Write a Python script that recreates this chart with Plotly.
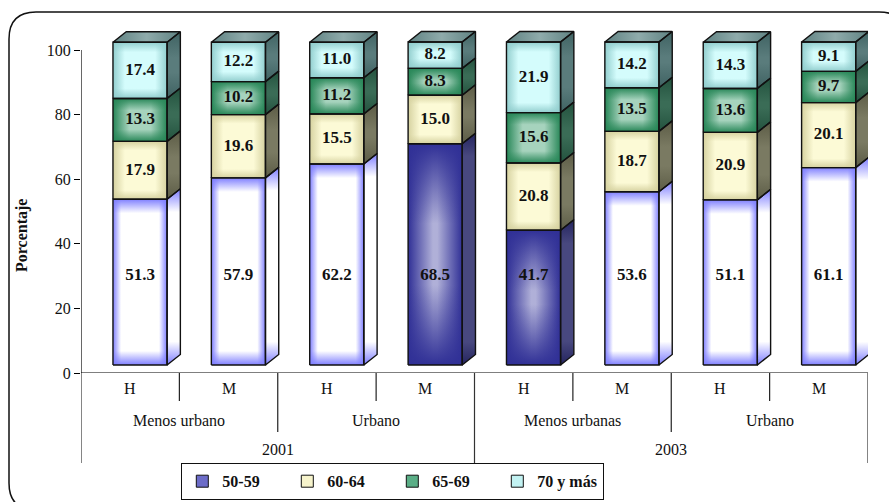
import plotly.graph_objects as go

# ---- data -------------------------------------------------------------
sexes = ["H", "M", "H", "M", "H", "M", "H", "M"]
areas = ["Menos urbano", "Urbano", "Menos urbanas", "Urbano"]
years = ["2001", "2003"]
series_names = ["50-59", "60-64", "65-69", "70 y más"]

v_50_59 = [51.3, 57.9, 62.2, 68.5, 41.7, 53.6, 51.1, 61.1]
v_60_64 = [17.9, 19.6, 15.5, 15.0, 20.8, 18.7, 20.9, 20.1]
v_65_69 = [13.3, 10.2, 11.2, 8.3, 15.6, 13.5, 13.6, 9.7]
v_70_mas = [17.4, 12.2, 11.0, 8.2, 21.9, 14.2, 14.3, 9.1]

y_ticks = [0, 20, 40, 60, 80, 100]

series_values = [v_50_59, v_60_64, v_65_69, v_70_mas]

# ---- geometry / styling ----------------------------------------------
FONT = "'Liberation Serif', 'Times New Roman', serif"
W, H = 889, 502
M_L, M_R, M_T, M_B = 81, 21, 15, 129
PLOT_W = W - M_L - M_R
PLOT_H = H - M_T - M_B
Y_MAX = 110.84
PXU = PLOT_H / Y_MAX          # pixels per y unit

BAR_L, BAR_W = 0.325, 0.55    # front face position inside each slot
DX, DY = 0.135, 3.25          # oblique depth of the 3D boxes
LIFT = 2.5                    # front face sits slightly above the floor
LABEL_BOTTOM = 27.6           # label height used in the lowest segment

# bottom segment rendering per bar: light (white/periwinkle) or dark blue
bottom_style = ["white", "white", "white", "dark", "dark", "white", "white", "white"]

styles = {
    "white": dict(base="#ffffff", edge=(128, 128, 255), hf=0.15, band=14,
                  side=["#7c7cff", "#ffffff", "#ffffff", "#7c7cff"]),
    "dark": dict(base="#b0b0d8", edge=(48, 48, 150), hf=0.46, band=80,
                 side=["#24245e", "#48487f", "#48487f", "#24245e"]),
    "cream": dict(base="#fcfad6", edge=(214, 210, 160), hf=0.22, band=9,
                  side=["#5c5c46", "#7a7a62", "#7a7a62", "#5c5c46"]),
    "green": dict(base="#a6d3bd", edge=(40, 135, 88), hf=0.3, band=12,
                  side=["#23523e", "#3a6c56", "#3a6c56", "#23523e"]),
    "cyan": dict(base="#d4fcfc", edge=(146, 206, 206), hf=0.22, band=10,
                 side=["#3f6262", "#5a7c7c", "#5a7c7c", "#3f6262"]),
}
series_style = [None, "cream", "green", "cyan"]
legend_colors = ["#6c6cc8", "#f7f4cc", "#5aae86", "#c2f2f2"]
TOP_COLORS = ["#5f8282", "#8fabab", "#5f8282"]


def rgba(c, a):
    return f"rgba({c[0]},{c[1]},{c[2]},{a})"


def seg_style(si, bi):
    return styles[bottom_style[bi]] if si == 0 else styles[series_style[si]]


fig = go.Figure()

# cumulative bottoms of every segment
n = len(sexes)
bases = []
running = [0.0] * n
for vals in series_values:
    bases.append(running[:])
    running = [r + v for r, v in zip(running, vals)]
totals = running

x_center = [i + BAR_L + BAR_W / 2 for i in range(n)]

# front faces as bars
for si, vals in enumerate(series_values):
    fig.add_trace(go.Bar(
        x=x_center, y=vals, base=[b + LIFT for b in bases[si]],
        width=BAR_W, name=series_names[si], showlegend=False,
        marker=dict(color=[seg_style(si, bi)["base"] for bi in range(n)],
                    line=dict(width=0)),
        hoverinfo="skip",
    ))

outline_x, outline_y = [], []

for si, vals in enumerate(series_values):
    for bi in range(n):
        st = seg_style(si, bi)
        x0 = bi + BAR_L
        x1 = x0 + BAR_W
        y0 = bases[si][bi] + LIFT
        y1 = y0 + vals[bi]
        rx = [x0, x1, x1, x0, x0]
        ry = [y0, y0, y1, y1, y0]
        e1, e0 = rgba(st["edge"], 1), rgba(st["edge"], 0)
        hf = st["hf"]
        # shading towards the left/right edges
        fig.add_trace(go.Scatter(
            x=rx, y=ry, mode="lines", fill="toself", line=dict(width=0),
            fillgradient=dict(type="horizontal", colorscale=[
                [0, e1], [hf, e0], [1 - hf, e0], [1, e1]]),
            showlegend=False, hoverinfo="skip"))
        # shading towards the top/bottom edges
        vf = min(0.45, st["band"] / (vals[bi] * PXU))
        fig.add_trace(go.Scatter(
            x=rx, y=ry, mode="lines", fill="toself", line=dict(width=0),
            fillgradient=dict(type="vertical", colorscale=[
                [0, e1], [vf, e0], [1 - vf, e0], [1, e1]]),
            showlegend=False, hoverinfo="skip"))
        # right side face
        sx = [x1, x1 + DX, x1 + DX, x1, x1]
        sy = [y0, y0 + DY, y1 + DY, y1, y0]
        sf = min(0.45, 22 / (vals[bi] * PXU))
        fig.add_trace(go.Scatter(
            x=sx, y=sy, mode="lines", fill="toself", line=dict(width=0),
            fillgradient=dict(type="vertical", colorscale=[
                [0, st["side"][0]], [sf, st["side"][1]],
                [1 - sf, st["side"][2]], [1, st["side"][3]]]),
            showlegend=False, hoverinfo="skip"))
        outline_x += rx + [None] + sx + [None]
        outline_y += ry + [None] + sy + [None]

# top faces
for bi in range(n):
    x0 = bi + BAR_L
    x1 = x0 + BAR_W
    yt = totals[bi] + LIFT
    tx = [x0, x1, x1 + DX, x0 + DX, x0]
    ty = [yt, yt, yt + DY, yt + DY, yt]
    fig.add_trace(go.Scatter(
        x=tx, y=ty, mode="lines", fill="toself", line=dict(width=0),
        fillgradient=dict(type="horizontal", colorscale=[
            [0, TOP_COLORS[0]], [0.5, TOP_COLORS[1]], [1, TOP_COLORS[2]]]),
        showlegend=False, hoverinfo="skip"))
    outline_x += tx + [None]
    outline_y += ty + [None]

fig.add_trace(go.Scatter(
    x=outline_x, y=outline_y, mode="lines",
    line=dict(color="#111111", width=1.4),
    showlegend=False, hoverinfo="skip"))

# value labels
lab_x, lab_y, lab_t = [], [], []
for si, vals in enumerate(series_values):
    for bi in range(n):
        lab_x.append(x_center[bi])
        if si == 0:
            lab_y.append(LABEL_BOTTOM + LIFT)
        else:
            lab_y.append(bases[si][bi] + vals[bi] / 2 + LIFT)
        lab_t.append(f"<b>{vals[bi]:.1f}</b>")
fig.add_trace(go.Scatter(
    x=lab_x, y=lab_y, text=lab_t, mode="text",
    textfont=dict(family=FONT, size=17, color="#111111"),
    showlegend=False, hoverinfo="skip"))

# legend entries
for name, col in zip(series_names, legend_colors):
    fig.add_trace(go.Bar(
        x=[None], y=[None], name=name,
        marker=dict(color=col, line=dict(color="#111111", width=1)),
    ))

# ---- axes, dividers, category labels ---------------------------------
def py2paper(py):
    return (H - M_B - py) / PLOT_H


def px2paper(px):
    return (px - M_L) / PLOT_W


shapes = []
# y axis line and floor line
shapes.append(dict(type="line", xref="x", yref="y", x0=0, x1=0, y0=0, y1=100,
                   line=dict(color="black", width=1.2)))
shapes.append(dict(type="line", xref="x", yref="y", x0=0, x1=n, y0=0, y1=0,
                   line=dict(color="black", width=1.2)))
# category dividers below the floor
lvl1, lvl2, lvl3 = py2paper(401), py2paper(432), py2paper(463)
for k in range(n + 1):
    if k % 4 == 0:
        y_end = lvl3
    elif k % 2 == 0:
        y_end = lvl2
    else:
        y_end = lvl1
    shapes.append(dict(type="line", xref="x", yref="paper", x0=k, x1=k,
                       y0=0, y1=y_end,
                       line=dict(color="#222222" if k % 4 else "#333333",
                                 width=1.2)))

# rounded frame around the whole chart
L, T, R, B, RAD = 9, 12, 906, 510, 27
X, Y = px2paper, py2paper
frame = (f"M {X(L)},{Y(T + RAD)} L {X(L)},{Y(B - RAD)} "
         f"Q {X(L)},{Y(B)} {X(L + RAD)},{Y(B)} L {X(R - RAD)},{Y(B)} "
         f"Q {X(R)},{Y(B)} {X(R)},{Y(B - RAD)} L {X(R)},{Y(T + RAD)} "
         f"Q {X(R)},{Y(T)} {X(R - RAD)},{Y(T)} L {X(L + RAD)},{Y(T)} "
         f"Q {X(L)},{Y(T)} {X(L)},{Y(T + RAD)} Z")
shapes.append(dict(type="path", xref="paper", yref="paper", path=frame,
                   line=dict(color="#111111", width=1.5)))

lab_font = dict(family=FONT, size=16, color="#111111")
annotations = []
for i, s in enumerate(sexes):
    annotations.append(dict(x=i + 0.5, y=py2paper(388), xref="x", yref="paper",
                            text=s, showarrow=False, font=lab_font,
                            xanchor="center", yanchor="middle"))
for j, a in enumerate(areas):
    annotations.append(dict(x=2 * j + 1, y=py2paper(420), xref="x", yref="paper",
                            text=a, showarrow=False, font=lab_font,
                            xanchor="center", yanchor="middle"))
for j, yr in enumerate(years):
    annotations.append(dict(x=4 * j + 2, y=py2paper(450), xref="x", yref="paper",
                            text=yr, showarrow=False, font=lab_font,
                            xanchor="center", yanchor="middle"))
annotations.append(dict(x=px2paper(22), y=py2paper(235), xref="paper", yref="paper",
                        text="<b>Porcentaje</b>", textangle=-90, showarrow=False,
                        xanchor="center", yanchor="middle",
                        font=dict(family=FONT, size=16, color="#111111")))

fig.update_layout(
    width=W, height=H,
    margin=dict(l=M_L, r=M_R, t=M_T, b=M_B, autoexpand=False),
    paper_bgcolor="white", plot_bgcolor="white",
    barmode="overlay",
    xaxis=dict(range=[0, n], showticklabels=False, showgrid=False,
               zeroline=False, showline=False, ticks=""),
    yaxis=dict(range=[0, Y_MAX], tickvals=y_ticks, ticks="outside", ticklen=6,
               tickcolor="black", showgrid=False, zeroline=False, showline=False,
               tickfont=dict(family=FONT, size=16, color="#111111")),
    shapes=shapes,
    annotations=annotations,
    legend=dict(orientation="h", x=px2paper(181), y=py2paper(463),
                xanchor="left", yanchor="top",
                bordercolor="#111111", borderwidth=1.3, bgcolor="white",
                entrywidth=60, entrywidthmode="pixels",
                font=dict(family=FONT, size=16, color="#111111", weight="bold"),
                itemclick=False, itemdoubleclick=False),
    showlegend=True,
)

fig.write_html("out.html")
